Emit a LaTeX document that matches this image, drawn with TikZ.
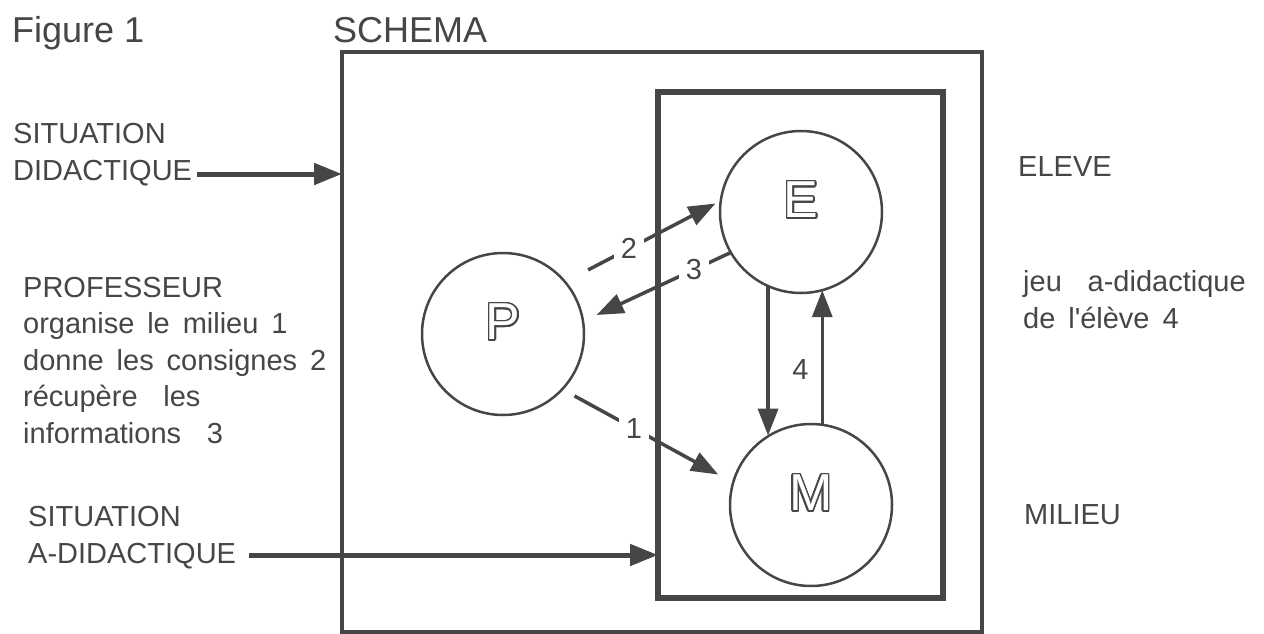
\documentclass[tikz,border=0pt]{standalone}
\usepackage{fontspec}
\setmainfont{Liberation Sans}
\newfontfamily\widesans{Liberation Sans}[WordSpace=1.6]
\usepackage{contour}
\usetikzlibrary{arrows.meta}
\definecolor{ink}{RGB}{70,70,70}
\contourlength{1.4pt}
\contournumber{32}

\begin{document}
\begin{tikzpicture}[x=1pt,y=-1pt,
  txt/.style={anchor=base west,align=left,inner sep=0pt,text=ink,font=\widesans\fontsize{29}{36.5}\selectfont},
  ttl/.style={anchor=base west,inner sep=0pt,text=ink,font=\fontsize{36}{40}\selectfont},
  lbl/.style={inner sep=0pt,text=ink,font=\fontsize{29}{30}\selectfont},
  num/.style={lbl,fill=white,inner xsep=7pt,inner ysep=1pt},
  pole/.style={circle,draw=ink,line width=2.5pt,minimum size=162pt,inner sep=0pt,outer sep=0pt,text depth=24pt,font=\fontsize{52}{52}\selectfont},
  boxframe/.style={draw=ink,inner sep=0pt,outer sep=0pt,anchor=north west},
  arr/.style={draw=ink,line width=3.5pt,-{Triangle[length=27pt,width=20pt]}},
  bigarr/.style={draw=ink,line width=5pt,-{Triangle[length=28pt,width=21pt]}}]
\useasboundingbox (0,0) rectangle (1264,634);

\node[ttl] (fig) at (12,43) {Figure 1};
\node[ttl] (schema) at (333,43) {SCHEMA};

% boxes
\node[boxframe,line width=4pt,minimum width=640pt,minimum height=580pt] (outer) at (342,52) {};
\node[boxframe,line width=6pt,minimum width=285pt,minimum height=506pt] (inner) at (658,92) {};

% poles
\node[pole] (E) at (801,212) {{\color{white}\contour{ink}{E}}};
\node[pole] (P) at (503,334) {{\color{white}\contour{ink}{P}}};
\node[pole] (M) at (811,505) {{\color{white}\contour{ink}{M}}};

% texts (base = last line)
\node[txt] (sitdid) at (13,180) {SITUATION\\DIDACTIQUE};
\node[txt] (prof) at (23,443) {PROFESSEUR\\organise le milieu 1\\donne les consignes 2\\récupère~~les\\informations~~3};
\node[txt] (sitadid) at (28,563) {SITUATION\\A-DIDACTIQUE};
\node[txt] (eleve) at (1018,176) {ELEVE};
\node[txt] (jeu) at (1023,328) {jeu~~a-didactique\\de l\textquotesingle élève 4};
\node[txt] (milieu) at (1024,524) {MILIEU};

% situations
\coordinate (didend) at (197,174);
\coordinate (adidend) at (249,555);
\draw[bigarr] (didend) -- (didend -| outer.west);
\draw[bigarr] (adidend) -- (adidend -| inner.west);

% exchanges
\draw[arr,shorten <=26pt,shorten >=6pt] (P.40.8) -- node[num,pos=.41] (n2) {2} (E.172.7);
\draw[arr,shorten >=15pt] (E.210.4) -- node[num,pos=.25] (n3) {3} (P.9.1);
\draw[arr,shorten <=14pt,shorten >=17pt] (P.-43.7) -- node[num,pos=.42] (n1) {1} (M.164.5);
\draw[arr] (E.246.7) -- (E.246.7 |- M.121.2);
\draw[arr] (M.82.2) -- node[lbl,pos=.41,left=12pt] (n4) {4} (M.82.2 |- E.285);
\end{tikzpicture}
\end{document}
